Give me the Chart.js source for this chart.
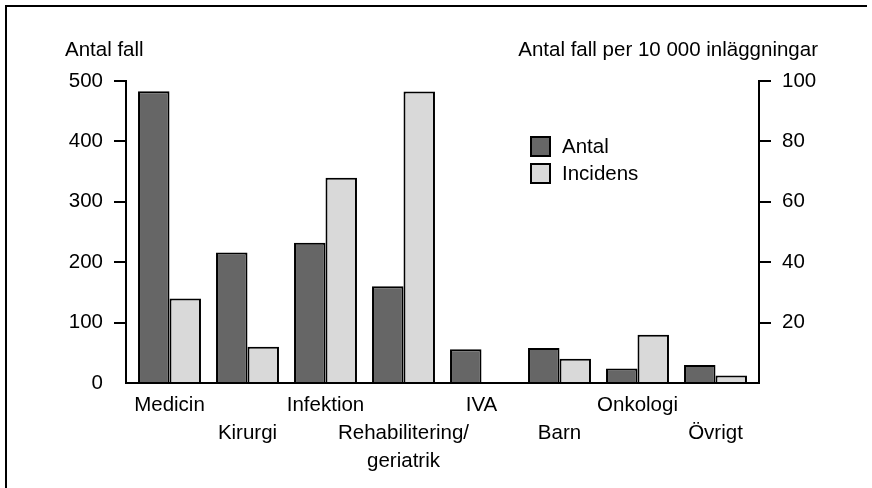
<!DOCTYPE html>
<html>
<head>
<meta charset="utf-8">
<script src="https://cdn.jsdelivr.net/npm/chart.js@4"></script>
<style>
  html, body { margin: 0; padding: 0; background: #ffffff; }
  #wrap { position: relative; width: 872px; height: 488px; }
</style>
</head>
<body>
<div id="wrap"><canvas id="c"></canvas></div>
<script>
// ---- data ----
const categories = ['Medicin', 'Kirurgi', 'Infektion', 'Rehabilitering/\ngeriatrik', 'IVA', 'Barn', 'Onkologi', 'Övrigt'];
const antal = [483, 216, 232, 160, 56, 58, 24, 30];            // Antal fall (left axis)
const incidens = [28, 12, 68, 96.5, null, 8, 16, 2.5];         // per 10 000 inläggningar (right axis)
const seriesNames = ['Antal', 'Incidens'];
const leftTitle = 'Antal fall';
const rightTitle = 'Antal fall per 10 000 inläggningar';
const leftTicks = [0, 100, 200, 300, 400, 500];
const rightTicks = [20, 40, 60, 80, 100];

const FONT = { family: '"Liberation Sans", Arial, Helvetica, sans-serif', size: 20.5 };

// inset of the category band inside the axis frame
const insetPlugin = {
  id: 'inset',
  afterLayout(chart) {
    const s = chart.scales.x;
    const inset = 4.5;
    s._startPixel = s.left + inset;
    s._endPixel = s.right - inset;
    s._length = s._endPixel - s._startPixel;
  }
};

const framePlugin = {
  id: 'frame',
  afterDraw(chart) {
    const ctx = chart.ctx;
    const ca = chart.chartArea;
    ctx.save();
    // outer frame (top and left)
    ctx.strokeStyle = '#000';
    ctx.lineWidth = 2;
    ctx.beginPath();
    ctx.moveTo(6, 488);
    ctx.lineTo(6, 6);
    ctx.lineTo(867, 6);
    ctx.stroke();
    // axis titles
    ctx.fillStyle = '#000';
    ctx.font = FONT.size + 'px ' + FONT.family;
    ctx.textBaseline = 'middle';
    ctx.textAlign = 'left';
    ctx.fillText(leftTitle, ca.left - 61, 50);
    ctx.textAlign = 'right';
    ctx.fillText(rightTitle, ca.right + 59, 50);
    // legend
    chart.data.datasets.forEach((ds, i) => {
      const x = ca.left + 404, y = ca.top + 55 + i * 27;
      ctx.fillStyle = ds.backgroundColor;
      ctx.fillRect(x, y, 21, 21);
      ctx.lineWidth = 2;
      ctx.strokeStyle = '#000';
      ctx.strokeRect(x + 1, y + 1, 19, 19);
      ctx.fillStyle = '#000';
      ctx.textAlign = 'left';
      ctx.fillText(ds.label, x + 32, y + 11);
    });
    ctx.restore();
  }
};

new Chart(document.getElementById('c'), {
  type: 'bar',
  data: {
    labels: categories,
    datasets: [
      { label: seriesNames[0], data: antal, yAxisID: 'y', backgroundColor: '#666666',
        borderColor: '#000000', borderWidth: 2, categoryPercentage: 0.807, barPercentage: 1.0 },
      { label: seriesNames[1], data: incidens, yAxisID: 'y1', backgroundColor: '#d9d9d9',
        borderColor: '#000000', borderWidth: 2, categoryPercentage: 0.807, barPercentage: 1.0 }
    ]
  },
  options: {
    responsive: true,
    maintainAspectRatio: false,
    animation: false,
    layout: { padding: { left: 0, right: 0, top: 81, bottom: 0 } },
    plugins: { legend: { display: false }, tooltip: { enabled: false }, title: { display: false } },
    scales: {
      x: {
        grid: { display: false, drawTicks: false, tickLength: 0 },
        border: { display: true, color: '#000', width: 2 },
        ticks: {
          color: '#000', font: { ...FONT, lineHeight: 1.37 }, padding: 8,
          autoSkip: false, maxRotation: 0, minRotation: 0,
          callback: function (value, index) {
            const lines = String(categories[index]).split('\n');
            return index % 2 ? [''].concat(lines) : lines;
          }
        },
        afterFit(scale) { scale.height = 105; }
      },
      y: {
        position: 'left', min: 0, max: 500,
        afterBuildTicks(scale) { scale.ticks = leftTicks.map(v => ({ value: v })); },
        grid: { drawOnChartArea: false, drawTicks: true, tickLength: 12, lineWidth: 2,
                color: ctx => (ctx.tick && ctx.tick.value === 0) ? 'rgba(0,0,0,0)' : '#000' },
        border: { display: true, color: '#000', width: 2 },
        ticks: { color: '#000', font: FONT, padding: 11 },
        afterFit(scale) { scale.width = 126; }
      },
      y1: {
        position: 'right', min: 0, max: 100,
        afterBuildTicks(scale) { scale.ticks = [0].concat(rightTicks).map(v => ({ value: v })); },
        grid: { drawOnChartArea: false, drawTicks: true, tickLength: 12, lineWidth: 2,
                color: ctx => (ctx.tick && ctx.tick.value === 0) ? 'rgba(0,0,0,0)' : '#000' },
        border: { display: true, color: '#000', width: 2 },
        ticks: { color: '#000', font: FONT, padding: 11,
                 callback: v => (v === 0 ? '' : v) },
        afterFit(scale) { scale.width = 113; }
      }
    }
  },
  plugins: [insetPlugin, framePlugin]
});
</script>
</body>
</html>
